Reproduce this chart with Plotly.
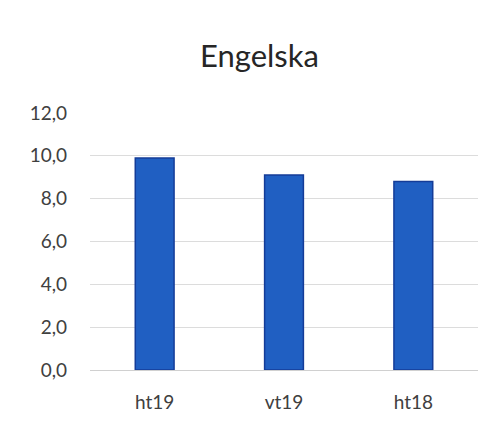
import plotly.graph_objects as go

categories = ["ht19", "vt19", "ht18"]
values = [9.9, 9.1, 8.8]
tick_vals = [0, 2, 4, 6, 8, 10, 12]
tick_text = ["0,0", "2,0", "4,0", "6,0", "8,0", "10,0", "12,0"]

font_family = "Lato, 'Open Sans', sans-serif"

fig = go.Figure(
    go.Bar(
        x=categories,
        y=values,
        marker=dict(color="#205FC2", line=dict(color="#143C98", width=1.5)),
    )
)

fig.update_layout(
    width=503,
    height=423,
    margin=dict(l=82, r=33, t=105, b=61),
    paper_bgcolor="white",
    plot_bgcolor="white",
    bargap=0.7,
    showlegend=False,
    title=dict(
        text="Engelska",
        x=0.5,
        xanchor="center",
        y=1 - 48 / 423,
        yanchor="middle",
        font=dict(family=font_family, size=31, color="#262626"),
    ),
    font=dict(family=font_family, color="#404040"),
)

fig.update_yaxes(
    range=[0, 12],
    tickvals=tick_vals,
    ticktext=tick_text,
    showgrid=True,
    gridcolor="#dcdcdc",
    gridwidth=1,
    zeroline=True,
    zerolinecolor="#d0d0d0",
    zerolinewidth=1,
    showline=False,
    ticks="",
    ticklabelstandoff=22,
    tickfont=dict(size=19, color="#404040"),
)

fig.update_xaxes(
    showgrid=False,
    showline=False,
    ticks="",
    ticklabelstandoff=19,
    tickfont=dict(size=19, color="#404040"),
)

fig.write_html("out.html")
